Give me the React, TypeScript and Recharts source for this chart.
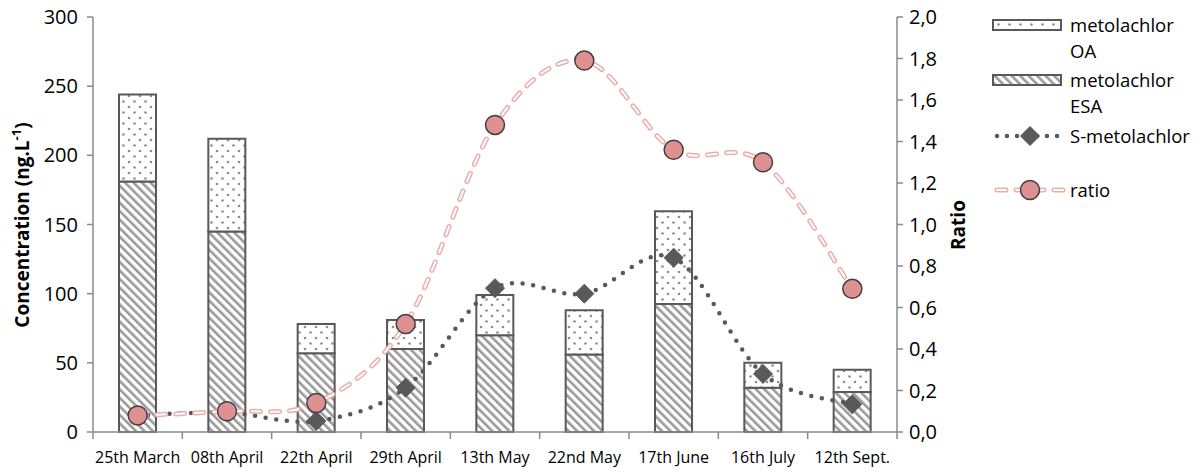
import React from "react";
import { Bar, ComposedChart, Line, XAxis, YAxis } from "recharts";

const categories = [
  "25th March",
  "08th April",
  "22th April",
  "29th April",
  "13th May",
  "22nd May",
  "17th June",
  "16th July",
  "12th Sept.",
];
const metolachlorESA = [181, 145, 57, 60, 70, 56, 92.5, 32, 29];
const metolachlorOA = [63, 67, 21, 21, 29, 32, 67, 18, 16];
const sMetolachlor = [12, 14, 8, 32, 104, 100, 126, 42, 20];
const ratio = [0.08, 0.1, 0.14, 0.52, 1.48, 1.79, 1.36, 1.3, 0.69];
const leftTicks = [0, 50, 100, 150, 200, 250, 300];
const rightTicks = [0, 0.2, 0.4, 0.6, 0.8, 1.0, 1.2, 1.4, 1.6, 1.8, 2.0];

const data = categories.map((name, i) => ({
  name,
  esa: metolachlorESA[i],
  oa: metolachlorOA[i],
  smeto: sMetolachlor[i],
  ratio: ratio[i],
}));

const FONT = "'Open Sans', sans-serif";
const AXIS = "#8a8a8a";
const DARK = "#595959";
const PINK_LINE = "#eaaeae";
const PINK_DOT = "#df9090";

// chart covers the whole page (wrapper cancels the body margin)
const W = 1201;
const H = 473;
const PLOT_LEFT = 93;
const PLOT_RIGHT = 897;
const STEP = (PLOT_RIGHT - PLOT_LEFT) / categories.length;

// excel-like smoothed line (catmull-rom through the points)
const smoothCurve = (context: any) => {
  let pts: number[][] = [];
  return {
    areaStart() {},
    areaEnd() {},
    lineStart() {
      pts = [];
    },
    point(x: number, y: number) {
      pts.push([+x, +y]);
    },
    lineEnd() {
      if (!pts.length) return;
      context.moveTo(pts[0][0], pts[0][1]);
      const k = 1 / 6;
      for (let i = 0; i < pts.length - 1; i++) {
        const p0 = pts[i - 1] || pts[i];
        const p1 = pts[i];
        const p2 = pts[i + 1];
        const p3 = pts[i + 2] || p2;
        context.bezierCurveTo(
          p1[0] + (p2[0] - p0[0]) * k,
          p1[1] + (p2[1] - p0[1]) * k,
          p2[0] - (p3[0] - p1[0]) * k,
          p2[1] - (p3[1] - p1[1]) * k,
          p2[0],
          p2[1]
        );
      }
    },
  };
};

const Patterns = ({ suffix = "" }) => (
  <defs>
    <pattern id={"dots" + suffix} width="11" height="11" patternUnits="userSpaceOnUse">
      <rect width="11" height="11" fill="#fff" />
      <circle cx="2.5" cy="2.5" r="1.3" fill="#8e8e8e" />
      <circle cx="8" cy="8" r="1.3" fill="#8e8e8e" />
    </pattern>
    <pattern
      id={"hatch" + suffix}
      width="6"
      height="6"
      patternUnits="userSpaceOnUse"
      patternTransform="rotate(-45)"
    >
      <rect width="6" height="6" fill="#fff" />
      <rect width="2.6" height="6" fill="#9a9a9a" />
    </pattern>
  </defs>
);

const XTick = (props: any) => {
  const { x, y, payload, index } = props;
  return (
    <g>
      <line x1={x - STEP / 2} x2={x - STEP / 2} y1={y} y2={y + 7} stroke={AXIS} strokeWidth={1.5} />
      {index === categories.length - 1 && (
        <line x1={x + STEP / 2} x2={x + STEP / 2} y1={y} y2={y + 7} stroke={AXIS} strokeWidth={1.5} />
      )}
      <text x={x} y={y + 31} textAnchor="middle" fontFamily={FONT} fontSize={16} fill="#000">
        {payload.value}
      </text>
    </g>
  );
};

const Diamond = (props: any) => {
  const { cx, cy } = props;
  if (cx == null || cy == null) return null;
  const r = 9.5;
  return (
    <path
      d={`M${cx},${cy - r} L${cx + r},${cy} L${cx},${cy + r} L${cx - r},${cy} Z`}
      fill={DARK}
      stroke={DARK}
      strokeWidth={1}
    />
  );
};

const RatioDot = (props: any) => {
  const { cx, cy } = props;
  if (cx == null || cy == null) return null;
  return <circle cx={cx} cy={cy} r={9.5} fill={PINK_DOT} stroke="#404040" strokeWidth={1.5} />;
};

const legendText: React.CSSProperties = {
  position: "absolute",
  left: 1070,
  fontFamily: FONT,
  fontSize: 18.5,
  lineHeight: "26px",
  color: "#000",
  whiteSpace: "nowrap",
};

const ChartLegend = () => (
  <>
    <svg style={{ position: "absolute", left: 985, top: 0 }} width={90} height={220}>
      <Patterns suffix="L" />
      <rect x={8} y={20} width={68} height={10} fill="url(#dotsL)" stroke={DARK} strokeWidth={2} />
      <rect x={8} y={75} width={68} height={10} fill="url(#hatchL)" stroke={DARK} strokeWidth={2} />
      <line
        x1={12}
        x2={78}
        y1={136}
        y2={136}
        stroke={DARK}
        strokeWidth={4.5}
        strokeDasharray="0 10"
        strokeLinecap="round"
      />
      <Diamond cx={45} cy={136} />
      <line x1={12} x2={78} y1={190} y2={190} stroke={PINK_LINE} strokeWidth={5} strokeDasharray="9 10" strokeLinecap="round" />
      <line x1={12} x2={78} y1={190} y2={190} stroke="#fff" strokeWidth={2} strokeDasharray="9 10" strokeLinecap="round" />
      <RatioDot cx={45} cy={190} />
    </svg>
    <div style={{ ...legendText, top: 12 }}>
      metolachlor
      <br />
      OA
    </div>
    <div style={{ ...legendText, top: 67 }}>
      metolachlor
      <br />
      ESA
    </div>
    <div style={{ ...legendText, top: 123 }}>S-metolachlor</div>
    <div style={{ ...legendText, top: 177 }}>ratio</div>
  </>
);

export default function App() {
  return (
    <div style={{ position: "relative", width: W, height: H, margin: "-8px 0 0 -8px" }}>
      <ComposedChart
        width={W}
        height={H}
        data={data}
        margin={{ top: 17, right: W - PLOT_RIGHT - 80, bottom: 11, left: 0 }}
        barCategoryGap={0}
      >
        <Patterns />
        <XAxis
          dataKey="name"
          xAxisId="x"
          height={30}
          tickSize={0}
          tickMargin={0}
          tickLine={false}
          tick={<XTick />}
          interval={0}
          axisLine={{ stroke: AXIS, strokeWidth: 1.5 }}
        />
        <YAxis
          yAxisId="left"
          width={PLOT_LEFT}
          domain={[0, 300]}
          ticks={leftTicks}
          interval={0}
          tickSize={6}
          tickMargin={9}
          axisLine={{ stroke: AXIS, strokeWidth: 1.5 }}
          tickLine={{ stroke: AXIS, strokeWidth: 1.5 }}
          tick={{ fontFamily: FONT, fontSize: 20, fill: "#000" }}
        />
        <YAxis
          yAxisId="right"
          orientation="right"
          width={80}
          domain={[0, 2]}
          ticks={rightTicks}
          interval={0}
          tickSize={6}
          tickMargin={6}
          tickFormatter={(v: number) => v.toFixed(1).replace(".", ",")}
          axisLine={{ stroke: AXIS, strokeWidth: 1.5 }}
          tickLine={{ stroke: AXIS, strokeWidth: 1.5 }}
          tick={{ fontFamily: FONT, fontSize: 20, fill: "#000" }}
        />
        <Bar
          dataKey="esa"
          name="metolachlor ESA"
          stackId="s"
          xAxisId="x"
          yAxisId="left"
          barSize={37}
          fill="url(#hatch)"
          stroke={DARK}
          strokeWidth={2}
          isAnimationActive={false}
        />
        <Bar
          dataKey="oa"
          name="metolachlor OA"
          stackId="s"
          xAxisId="x"
          yAxisId="left"
          barSize={37}
          fill="url(#dots)"
          stroke={DARK}
          strokeWidth={2}
          isAnimationActive={false}
        />
        <Line
          dataKey="smeto"
          name="S-metolachlor"
          type={smoothCurve as any}
          xAxisId="x"
          yAxisId="left"
          stroke={DARK}
          strokeWidth={4.5}
          strokeDasharray="0 10.7"
          strokeLinecap="round"
          dot={<Diamond />}
          activeDot={false}
          isAnimationActive={false}
        />
        <Line
          dataKey="ratio"
          name="ratio"
          type={smoothCurve as any}
          xAxisId="x"
          yAxisId="right"
          stroke={PINK_LINE}
          strokeWidth={5}
          strokeDasharray="9 10"
          strokeLinecap="round"
          dot={false}
          activeDot={false}
          legendType="none"
          isAnimationActive={false}
        />
        <Line
          dataKey="ratio"
          name="ratio core"
          type={smoothCurve as any}
          xAxisId="x"
          yAxisId="right"
          stroke="#fff"
          strokeWidth={2}
          strokeDasharray="9 10"
          strokeLinecap="round"
          dot={<RatioDot />}
          activeDot={false}
          legendType="none"
          isAnimationActive={false}
        />
        <text
          transform="translate(22, 225) rotate(-90)"
          textAnchor="middle"
          dominantBaseline="central"
          fontFamily={FONT}
          fontSize={19}
          fontWeight="bold"
          fill="#000"
        >
          Concentration (ng.L
          <tspan dy={-6} fontSize={13}>
            -1
          </tspan>
          <tspan dy={6}>)</tspan>
        </text>
        <text
          transform="translate(958, 225) rotate(-90)"
          textAnchor="middle"
          dominantBaseline="central"
          fontFamily={FONT}
          fontSize={19}
          fontWeight="bold"
          fill="#000"
        >
          Ratio
        </text>
      </ComposedChart>
      <ChartLegend />
    </div>
  );
}
